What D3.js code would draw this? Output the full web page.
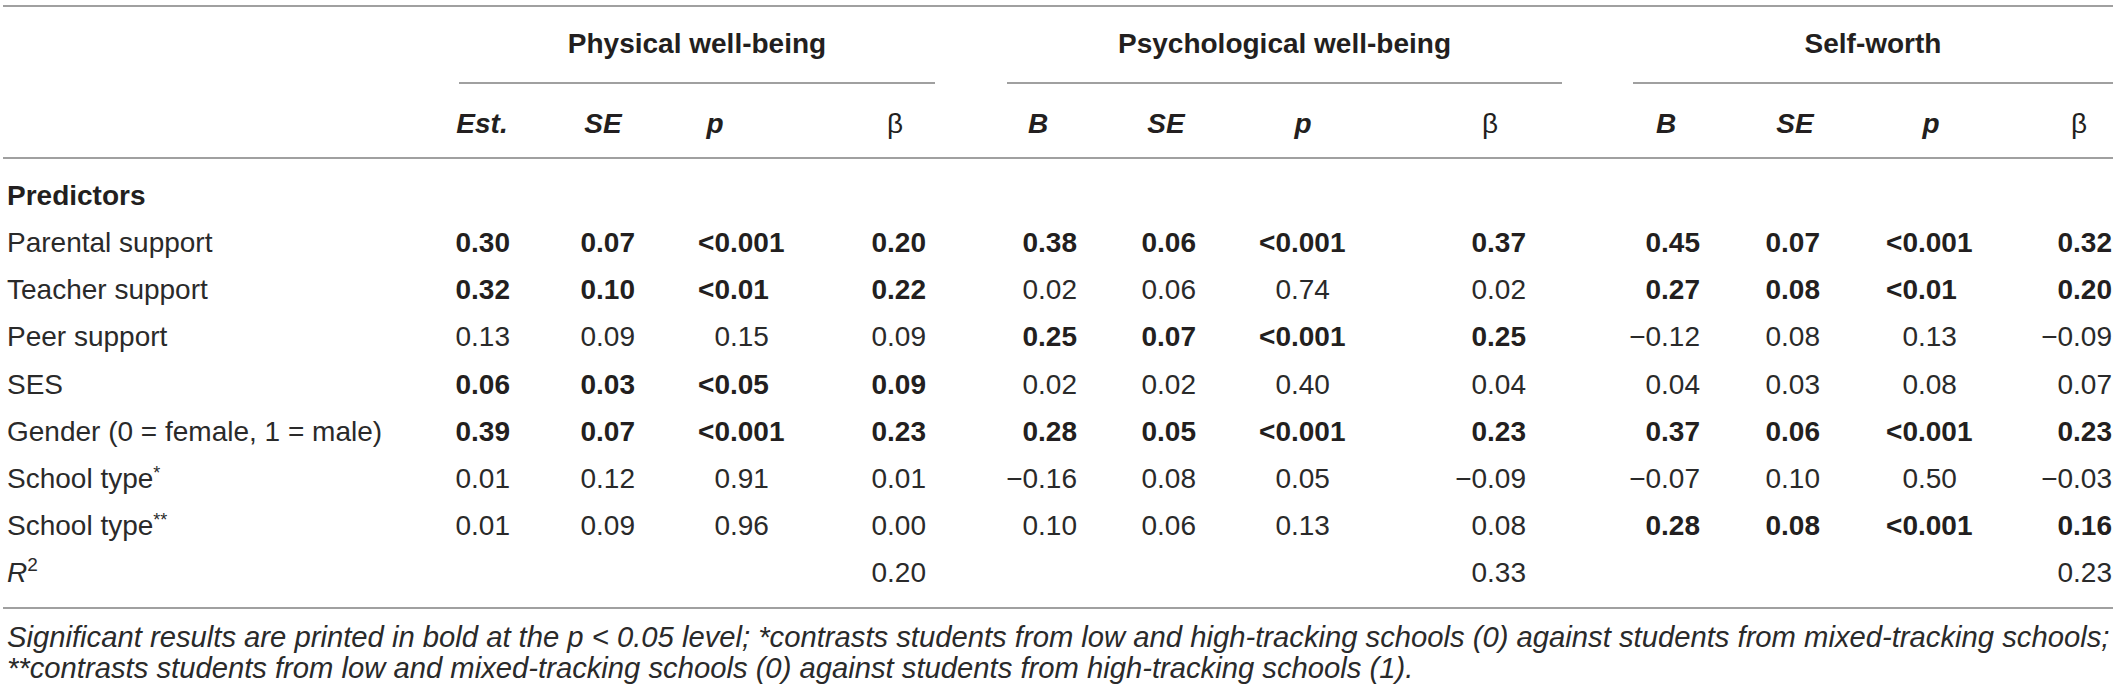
<!DOCTYPE html>
<html>
<head>
<meta charset="utf-8">
<script src="https://cdn.jsdelivr.net/npm/d3@7"></script>
<style>
body{margin:0;background:#fff}
text{font-family:"Liberation Sans",Arial,Helvetica,sans-serif;fill:#231f20}
</style>
</head>
<body>
<div id="chart"></div>
<script>
// table contents
const groups = ['Physical well-being','Psychological well-being','Self-worth'];
const subHeads = [['Est.','SE','p','β'],['B','SE','p','β'],['B','SE','p','β']];
const predictors = ['Parental support','Teacher support','Peer support','SES','Gender (0 = female, 1 = male)','School type','School type'];
const predictorMarks = ['','','','','','*','**'];

const physEst  = [0.30,0.32,0.13,0.06,0.39,0.01,0.01];
const physSE   = [0.07,0.10,0.09,0.03,0.07,0.12,0.09];
const physP    = ['<0.001','<0.01','0.15','<0.05','<0.001','0.91','0.96'];
const physBeta = [0.20,0.22,0.09,0.09,0.23,0.01,0.00];

const psyB    = [0.38,0.02,0.25,0.02,0.28,-0.16,0.10];
const psySE   = [0.06,0.06,0.07,0.02,0.05,0.08,0.06];
const psyP    = ['<0.001','0.74','<0.001','0.40','<0.001','0.05','0.13'];
const psyBeta = [0.37,0.02,0.25,0.04,0.23,-0.09,0.08];

const selfB    = [0.45,0.27,-0.12,0.04,0.37,-0.07,0.28];
const selfSE   = [0.07,0.08,0.08,0.03,0.06,0.10,0.08];
const selfP    = ['<0.001','<0.01','0.13','0.08','<0.001','0.50','<0.001'];
const selfBeta = [0.32,0.20,-0.09,0.07,0.23,-0.03,0.16];

const rSquared = [0.20,0.33,0.23];

const footLines = [
  'Significant results are printed in bold at the p < 0.05 level; *contrasts students from low and high-tracking schools (0) against students from mixed-tracking schools;',
  '**contrasts students from low and mixed-tracking schools (0) against students from high-tracking schools (1).'
];

// layout
const W=2118, H=694, fs=28;
const groupSpan = [[459,935],[1007,1562],[1633,2113]];
const colX  = [[510,635,730,926],[1077,1196,1291,1526],[1700,1820,1918,2112]]; // right edge, p = decimal point
const headX = [[482,603,715,895],[1038,1166,1303,1490],[1666,1795,1931,2079]];
const tableData = [
  [physEst,physSE,physP,physBeta],
  [psyB,psySE,psyP,psyBeta],
  [selfB,selfSE,selfP,selfBeta]
];

const fmt = d3.format('.2f');
const y = d3.scaleLinear().domain([0,8]).range([205,582]);

const svg = d3.select('#chart').append('svg').attr('width',W).attr('height',H);

function rule(x1,x2,yy){
  svg.append('line').attr('x1',x1).attr('x2',x2).attr('y1',yy).attr('y2',yy)
    .attr('stroke','#808080').attr('stroke-width',1.6);
}
rule(3,2113,6);
rule(3,2113,158);
rule(3,2113,608);
groupSpan.forEach(s=>rule(s[0],s[1],83));

// group headers
svg.selectAll('text.grp').data(groups).join('text').attr('class','grp')
  .attr('x',(d,i)=>(groupSpan[i][0]+groupSpan[i][1])/2).attr('y',53)
  .attr('text-anchor','middle').attr('font-size',fs).attr('font-weight','bold')
  .text(d=>d);

// sub headers
subHeads.forEach((hs,g)=>{
  svg.selectAll(null).data(hs).join('text')
    .attr('x',(d,i)=>headX[g][i]).attr('y',133).attr('text-anchor','middle')
    .attr('font-size',fs)
    .attr('font-weight',d=>d==='β'?'normal':'bold')
    .attr('font-style',d=>d==='β'?'normal':'italic')
    .text(d=>d);
});

// row labels
svg.append('text').attr('x',7).attr('y',y(0)).attr('font-size',fs).attr('font-weight','bold').text('Predictors');
const lab = svg.selectAll('text.lab').data(predictors).join('text').attr('class','lab')
  .attr('x',7).attr('y',(d,i)=>y(i+1)).attr('font-size',fs).style('fill','#2a2a2a');
lab.append('tspan').text(d=>d);
lab.append('tspan').attr('font-size',18).attr('dy',-9).text((d,i)=>predictorMarks[i]);
const r2 = svg.append('text').attr('x',7).attr('y',y(8)).attr('font-size',fs).style('fill','#2a2a2a');
r2.append('tspan').attr('font-style','italic').text('R');
r2.append('tspan').attr('font-size',19).attr('dy',-11).text('2');

// values
tableData.forEach((cols,g)=>{
  const pcol = cols[2];
  cols.forEach((vals,c)=>{
    vals.forEach((v,r)=>{
      const bold = pcol[r].startsWith('<');
      const yy = y(r+1);
      const t = svg.append('text').attr('y',yy).attr('font-size',fs)
        .attr('font-weight',bold?'bold':'normal').style('fill',bold?'#231f20':'#2a2a2a');
      if(c===2){
        const k = v.indexOf('.');
        t.attr('x',colX[g][c]).attr('text-anchor','end').text(v.slice(0,k));
        svg.append('text').attr('x',colX[g][c]).attr('y',yy).attr('font-size',fs)
          .attr('font-weight',bold?'bold':'normal').style('fill',bold?'#231f20':'#2a2a2a')
          .text(v.slice(k));
      } else {
        t.attr('x',colX[g][c]).attr('text-anchor','end').text(fmt(v));
      }
    });
  });
  svg.append('text').attr('x',colX[g][3]).attr('y',y(8)).attr('text-anchor','end')
    .attr('font-size',fs).style('fill','#2a2a2a').text(fmt(rSquared[g]));
});

// footnote, sized so the first line fills the table width
const foot = svg.selectAll('text.foot').data(footLines).join('text').attr('class','foot')
  .attr('x',7).attr('y',(d,i)=>647+i*31).attr('font-size',26).attr('font-style','italic')
  .style('fill','#2a2a2a').text(d=>d);
const len = foot.nodes()[0].getComputedTextLength();
foot.attr('font-size',26*2103/len);
</script>
</body>
</html>
